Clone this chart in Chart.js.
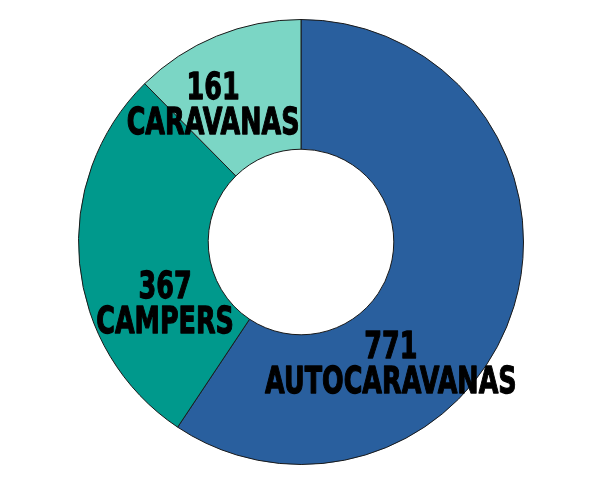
<!DOCTYPE html>
<html>
<head>
<meta charset="utf-8">
<script src="https://cdn.jsdelivr.net/npm/chart.js@4/dist/chart.umd.min.js"></script>
<style>
  html, body { margin: 0; padding: 0; background: #fff; }
  #wrap { width: 600px; height: 483px; }
</style>
</head>
<body>
<div id="wrap"><canvas id="chart"></canvas></div>
<script>
const categories = ['AUTOCARAVANAS', 'CAMPERS', 'CARAVANAS'];
const values = [771, 367, 161];
const colors = ['#295F9E', '#00998C', '#7BD6C5'];
// block shift of each label from the arc centroid (px)
const labelShift = [[-61, 78], [21, 49], [-28, 10]];

// ── Labels drawn on top of the slices ─────────────────────────────────────
const sliceLabels = {
  id: 'sliceLabels',
  afterDatasetsDraw(chart) {
    const { ctx } = chart;
    const arcs = chart.getDatasetMeta(0).data;
    const lineGap = 35;
    const squeeze = 0.67; // condensed look
    ctx.save();
    ctx.fillStyle = '#000';
    ctx.strokeStyle = '#000';
    ctx.lineWidth = 1.3;
    ctx.lineJoin = 'round';
    ctx.textAlign = 'center';
    ctx.textBaseline = 'middle';
    ctx.font = 'bold 38px "DejaVu Sans", sans-serif';
    arcs.forEach((arc, i) => {
      const p = arc.tooltipPosition();
      ctx.save();
      ctx.translate(p.x + labelShift[i][0], p.y + labelShift[i][1]);
      ctx.scale(squeeze, 1);
      [String(values[i]), categories[i]].forEach((t, k) => {
        const dy = (k === 0 ? -1 : 1) * lineGap / 2;
        ctx.fillText(t, 0, dy);
        ctx.strokeText(t, 0, dy);
      });
      ctx.restore();
    });
    ctx.restore();
  }
};

new Chart(document.getElementById('chart'), {
  type: 'doughnut',
  data: {
    labels: categories,
    datasets: [{
      data: values,
      backgroundColor: colors,
      borderColor: '#1a1a1a',
      borderWidth: 1,
    }]
  },
  options: {
    responsive: true,
    maintainAspectRatio: false,
    animation: false,
    cutout: '41.7%',
    layout: { padding: { top: 19, bottom: 18, left: 2, right: 0 } },
    plugins: { legend: { display: false }, tooltip: { enabled: false } },
  },
  plugins: [sliceLabels]
});
</script>
</body>
</html>
